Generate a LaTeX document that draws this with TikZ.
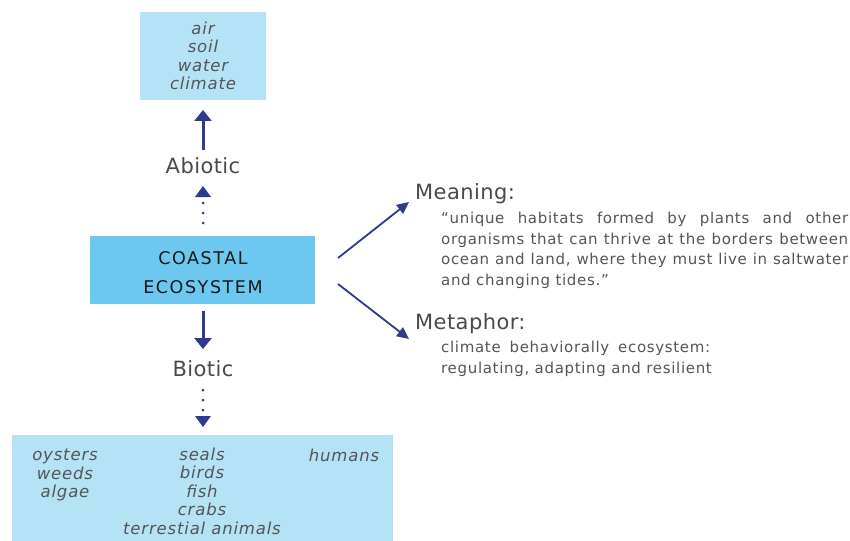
\documentclass[tikz,border=0pt]{standalone}
\usepackage{fontspec}
\setmainfont{DejaVu Sans}
\usetikzlibrary{arrows.meta}
\definecolor{paleblue}{HTML}{B3E3F5}
\definecolor{coreblue}{HTML}{6DC8EF}
\definecolor{navy}{HTML}{2E3A8C}
\definecolor{txtgray}{HTML}{555555}
\definecolor{headgray}{HTML}{4A4A4A}
\newcommand{\jline}[2]{\makebox[#1][s]{#2}}
\tikzset{
  listbox/.style={fill=paleblue, draw=none},
  item/.style={font=\fontsize{16.5}{18.5}\selectfont\itshape\addfontfeature{LetterSpace=5}, text=txtgray, inner sep=0pt, align=center},
  level/.style={font=\fontsize{21}{24}\selectfont\addfontfeature{LetterSpace=2}, text=headgray, inner sep=0pt},
  head/.style={font=\fontsize{21}{24}\selectfont\addfontfeature{LetterSpace=2}, text=headgray, inner sep=0pt, anchor=west},
  body/.style={font=\fontsize{15}{20.7}\selectfont\addfontfeature{LetterSpace=4.5}, text=txtgray, inner sep=0pt, anchor=north west, align=left},
  bigarrow/.style={draw=navy, line width=3pt, -{Triangle[length=11pt,width=17pt]}},
  dotline/.style={draw=navy, line width=3pt, dash pattern=on 0pt off 10pt, line cap=round},
  tip/.style={fill=navy, draw=none},
  thin/.style={draw=navy, line width=1.8pt, -{Triangle[length=12pt,width=11pt]}}
}
\begin{document}
\begin{tikzpicture}[x=1pt,y=-1pt]
\useasboundingbox (0,0) rectangle (850,540);
\fill[white] (0,0) rectangle (850,540);

% abiotic factors
\node[listbox, minimum width=126pt, minimum height=88pt] (abox) at (203,56) {};
\node[item] (alist) at (203,56) {air\\soil\\water\\climate};

% central concept
\node[fill=coreblue, minimum width=225pt, minimum height=68pt] (core) at (202.5,270) {};
\node[font=\fontsize{17.5}{29}\selectfont\addfontfeature{LetterSpace=9}, text=black!90, align=center, inner sep=0pt] (coretxt) at (203,273) {COASTAL\\ECOSYSTEM};

% abiotic branch
\node[level] (abio) at (203,166) {Abiotic};
\coordinate (aup0) at (203,150);
\coordinate (aup1) at (203,110);
\draw[bigarrow] (aup0) -- (aup1);
\coordinate (adot0) at (203,223);
\coordinate (adot1) at (203,202.5);
\draw[dotline] (adot0) -- (adot1);
\fill[tip] (195,197) -- (211,197) -- (203,186) -- cycle;

% biotic branch
\coordinate (bdn0) at (203,311);
\coordinate (bdn1) at (203,349);
\draw[bigarrow] (bdn0) -- (bdn1);
\node[level] (bio) at (203,369) {Biotic};
\coordinate (bdot0) at (203,390);
\coordinate (bdot1) at (203,410.5);
\draw[dotline] (bdot0) -- (bdot1);
\fill[tip] (195,416) -- (211,416) -- (203,427) -- cycle;

% biotic factors
\fill[paleblue] (12,435) rectangle (393,545);
\node[item] (c1) at (65,475) {oysters\\weeds\\algae};
\node[item] (c2) at (202,491) {seals\\birds\\fish\\crabs\\terrestial animals};
\node[item] (c3) at (344,455) {humans};

% meaning and metaphor
\coordinate (m0) at (338,258);
\coordinate (m1) at (409,202);
\draw[thin] (m0) -- (m1);
\coordinate (p0) at (338,284);
\coordinate (p1) at (409,339);
\draw[thin] (p0) -- (p1);

\node[head] (mean) at (415,194) {Meaning:};
\node[body] (meantxt) at (441,212) {%
  \jline{407pt}{“unique habitats formed by plants and other}\\
  \jline{407pt}{organisms that can thrive at the borders between}\\
  \jline{407pt}{ocean and land, where they must live in saltwater}\\
  and changing tides.”};
\node[head] (meta) at (415,324) {Metaphor:};
\node[body] (metatxt) at (441,341) {%
  \jline{269pt}{climate behaviorally ecosystem:}\\
  regulating, adapting and resilient};
\end{tikzpicture}
\end{document}
